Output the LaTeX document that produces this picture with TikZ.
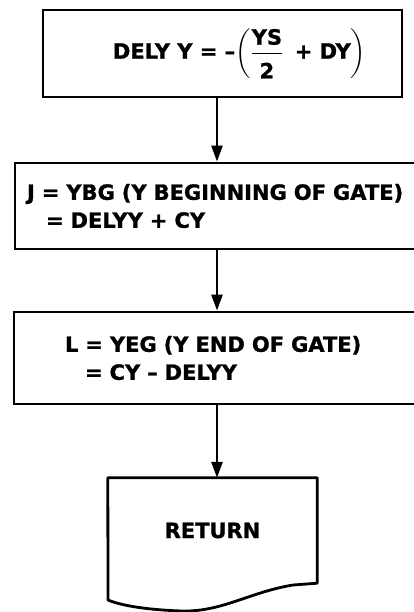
\documentclass[tikz,border=0pt]{standalone}
\usepackage{amsmath}
\usepackage{fontspec}
\setmainfont{DejaVu Sans}[BoldFeatures={FakeBold=1.2}]
\usetikzlibrary{arrows.meta}

\begin{document}
\begin{tikzpicture}[x=1pt,y=-1pt,
  procbox/.style={draw,line width=2.8pt,rectangle,inner xsep=12pt,inner ysep=0pt},
  flow/.style={line width=2.6pt,-{Triangle[length=16pt,width=11pt]}},
  lbl/.style={font=\fontsize{21}{28}\selectfont\bfseries}]
\useasboundingbox (0,0) rectangle (414,612);
\clip (0,0) rectangle (414,612);
\coordinate (axis) at (217,0);
\node[procbox,lbl,minimum width=359pt,minimum height=87pt] (delyy) at (222.5,53.5)
  {\hspace*{34pt}DELY Y = --$\left(\dfrac{\rule[-5pt]{0pt}{20pt}\text{YS}}{\rule{0pt}{22pt}\text{2}}\;\;\text{+ DY}\right)$};
\node[procbox,lbl,text width=401pt,align=left,minimum height=86pt] (ybg) at (227.5,206)
  {J = YBG (Y BEGINNING OF GATE)\\\hspace*{19pt}= DELYY + CY};
\node[procbox,lbl,text width=401pt,align=left,minimum height=92pt] (yeg) at (226.5,358)
  {\hspace*{39pt}L = YEG (Y END OF GATE)\\\hspace*{59pt}= CY -- DELYY};
\node[lbl,minimum width=209pt,minimum height=105pt,inner sep=0pt] (ret) at (212.5,530.5) {RETURN};
\draw[line width=2.8pt,line join=round] (ret.south east) -- (293,585)
  .. controls (250,592) and (222,612) .. (182,611)
  .. controls (150,610) and (122,606) .. (108,600)
  -- (ret.north west) -- (ret.north east) -- cycle;
\draw[flow] (delyy.south -| axis) -- (ybg.north -| axis);
\draw[flow] (ybg.south -| axis) -- (yeg.north -| axis);
\draw[flow] (yeg.south -| axis) -- (ret.north -| axis);
\end{tikzpicture}
\end{document}
